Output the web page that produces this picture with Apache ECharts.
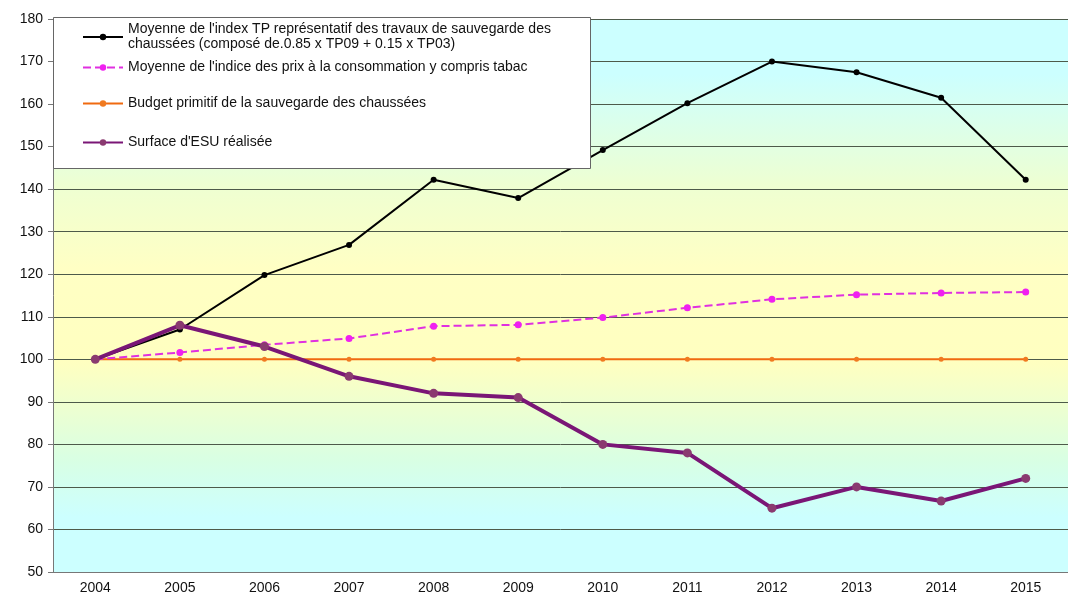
<!DOCTYPE html>
<html><head><meta charset="utf-8">
<script src="https://cdn.jsdelivr.net/npm/echarts@6/dist/echarts.min.js"></script>
<style>html,body{margin:0;padding:0;background:#fff}#c{width:1068px;height:596px}</style>
</head><body><div id="c"></div>
<script>
const years = ['2004','2005','2006','2007','2008','2009','2010','2011','2012','2013','2014','2015'];
const indexTP = [100,107,119.8,126.9,142.2,137.9,149.2,160.2,170,167.5,161.5,142.2];
const prixConso = [100,101.6,103.4,104.9,107.8,108.1,109.8,112.1,114.1,115.2,115.6,115.8];
const budget = [100,100,100,100,100,100,100,100,100,100,100,100];
const surfaceESU = [100,108,103,96,92,91,80,78,65,70,66.7,72];
const names = [
  "Moyenne de l'index TP représentatif des travaux de sauvegarde des\nchaussées (composé de.0.85 x TP09 + 0.15 x TP03)",
  "Moyenne de l'indice des prix à la consommation y compris tabac",
  "Budget primitif de la sauvegarde des chaussées",
  "Surface d'ESU réalisée"
];
const chart = echarts.init(document.getElementById('c'));
const font = 'Liberation Sans, Arial, sans-serif';
const legendBase = {
  left: 82, itemWidth: 40, itemHeight: 8, itemGap: 0,
  textStyle: {fontFamily: font, fontSize: 14, color: '#111', lineHeight: 15},
  selectedMode: false, padding: 0
};
chart.setOption({
  animation: false,
  grid: {left: 53, top: 19, width: 1035, height: 553, show: true,
    backgroundColor: {type: 'linear', x: 0, y: 0, x2: 0, y2: 1, colorStops: [
      {offset: 0, color: '#ccffff'},
      {offset: 0.1, color: '#ccffff'},
      {offset: 0.3, color: '#eeffd2'},
      {offset: 0.45, color: '#ffffc4'},
      {offset: 0.62, color: '#ffffc0'},
      {offset: 0.8, color: '#d8ffe4'},
      {offset: 0.9, color: '#ccffff'},
      {offset: 1, color: '#ccffff'}]},
    borderWidth: 0},
  graphic: [{type: 'rect', left: 53, top: 17, shape: {width: 537, height: 151},
    style: {fill: '#fff', stroke: '#666', lineWidth: 1}, z: 90}],
  legend: [
    Object.assign({}, legendBase, {top: 22, data: [names[0]], z: 100}),
    Object.assign({}, legendBase, {top: 60, data: [names[1]], z: 100}),
    Object.assign({}, legendBase, {top: 96, data: [names[2]], z: 100}),
    Object.assign({}, legendBase, {top: 135, data: [names[3]], z: 100})
  ],
  xAxis: {type: 'category', data: years, boundaryGap: true,
    axisLine: {lineStyle: {color: '#777'}},
    axisTick: {lineStyle: {color: '#777'}, length: 5},
    axisLabel: {fontFamily: font, fontSize: 14, color: '#111', margin: 9}},
  yAxis: {type: 'value', min: 50, max: 180, interval: 10,
    axisLine: {show: true, lineStyle: {color: '#777'}},
    axisTick: {show: true, lineStyle: {color: '#777'}, length: 5},
    axisLabel: {fontFamily: font, fontSize: 14, color: '#111', margin: 10},
    splitLine: {lineStyle: {color: '#4d5a4a', width: 1}}},
  series: [
    {name: names[0], type: 'line', data: indexTP, symbol: 'circle', symbolSize: 6,
      lineStyle: {color: '#000', width: 2}, itemStyle: {color: '#000'}, z: 5},
    {name: names[1], type: 'line', data: prixConso, symbol: 'circle', symbolSize: 7,
      lineStyle: {color: '#e030e0', width: 2, type: [8, 4]}, itemStyle: {color: '#f020f0'}, z: 4},
    {name: names[2], type: 'line', data: budget, symbol: 'circle', symbolSize: 5,
      lineStyle: {color: '#f06a10', width: 2}, itemStyle: {color: '#f07a20'}, z: 3},
    {name: names[3], type: 'line', data: surfaceESU, symbol: 'circle', symbolSize: 9,
      lineStyle: {color: '#7a1676', width: 4}, itemStyle: {color: '#8a3a70'}, z: 6}
  ]
});
</script></body></html>
